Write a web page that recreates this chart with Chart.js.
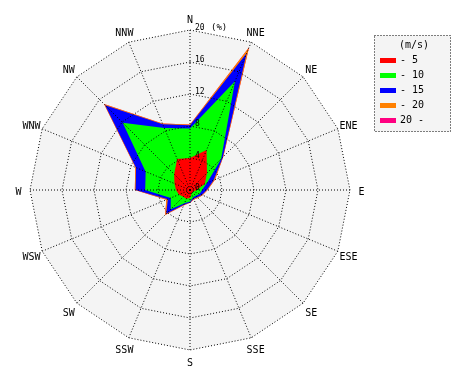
<!DOCTYPE html>
<html><head><meta charset="utf-8">
<script src="https://cdn.jsdelivr.net/npm/chart.js@4/dist/chart.umd.min.js"></script>
<style>html,body{margin:0;padding:0;background:#fff}#wrap{width:470px;height:380px;position:relative}</style>
</head><body><div id="wrap"><canvas id="c" width="470" height="380"></canvas></div>
<script>
const directions = ['N','NNE','NE','ENE','E','ESE','SE','SSE','S','SSW','SW','WSW','W','WNW','NW','NNW'];
const speedClasses = ['- 5','- 10','- 15','- 20','20 -'];
const classColors = ['#ff0000','#00ff00','#0000ff','#ff8000','#ff0080'];
// frequency (%) per direction for each wind-speed class
const freq0to5   = [4.0,5.4,3.0,2.0,0.8,0.5,0.4,0.5,1.0,1.2,1.2,1.5,1.75,2.1,2.8,4.2];
const freq5to10  = [3.7,9.3,2.5,0.3,0.7,0.8,0.6,0.5,0.45,0.6,2.2,1.1,3.85,3.9,9.1,4.2];
const freq10to15 = [0.4,3.8,0.3,0.9,0.6,0.3,0.3,0.2,0.1,0.2,0.8,0.4,1.2,1.3,3.1,0.5];
const freq15to20 = [0.1,0.8,0.1,0.2,0.1,0.1,0.1,0.1,0.05,0.1,0.2,0.2,0.1,0.1,0.2,0.1];
const freqOver20 = [0,0,0,0,0,0,0,0,0,0,0,0,0,0,0,0];
const radialTicks = [0,4,8,12,16,20];
const tickUnit = '(%)';
const legendTitle = '(m/s)';

const classFreqs = [freq0to5, freq5to10, freq10to15, freq15to20, freqOver20];
const running = directions.map(() => 0);
const datasets = classFreqs.map((arr, k) => {
  const cum = arr.map((v, i) => { running[i] += v; return +running[i].toFixed(3); });
  return {
    label: speedClasses[k],
    data: cum,
    backgroundColor: classColors[k],
    borderColor: classColors[k],
    borderWidth: 0,
    fill: 'origin',
    pointRadius: 0,
    tension: 0
  };
});

const FONT = '"DejaVu Sans Mono", monospace';

const bgPlugin = {
  id: 'bg',
  beforeDatasetsDraw(chart) {
    const s = chart.scales.r, ctx = chart.ctx;
    ctx.save();
    ctx.beginPath();
    directions.forEach((d, i) => {
      const p = s.getPointPosition(i, s.getDistanceFromCenterForValue(radialTicks[radialTicks.length-1]));
      if (i === 0) ctx.moveTo(p.x, p.y); else ctx.lineTo(p.x, p.y);
    });
    ctx.closePath();
    ctx.fillStyle = '#f4f4f4';
    ctx.fill();
    ctx.restore();
  }
};

const labelsPlugin = {
  id: 'labels',
  afterDraw(chart) {
    const s = chart.scales.r, ctx = chart.ctx;
    ctx.save();
    ctx.fillStyle = '#000';
    ctx.font = '10px ' + FONT;
    ctx.textAlign = 'center';
    ctx.textBaseline = 'middle';
    directions.forEach((d, i) => {
      const p = s.getPointPosition(i, s.drawingArea + 11.5);
      ctx.fillText(d, p.x, p.y + 2);
    });
    // radial tick labels
    ctx.textAlign = 'left';
    ctx.textBaseline = 'alphabetic';
    ctx.font = '8px ' + FONT;
    radialTicks.forEach((v, idx) => {
      const y = s.yCenter - s.getDistanceFromCenterForValue(v);
      ctx.fillText(String(v), s.xCenter + 5, y);
      if (idx === radialTicks.length - 1) {
        ctx.font = '9px ' + FONT;
        ctx.fillText(tickUnit, s.xCenter + 21, y);
      }
    });
    // legend
    const lx = 374.5, ly = 35.5, lw = 76, lh = 96;
    ctx.fillStyle = '#f4f4f4';
    ctx.fillRect(lx, ly, lw, lh);
    ctx.strokeStyle = '#000';
    ctx.lineWidth = 1;
    ctx.setLineDash([1, 2]);
    ctx.strokeRect(lx, ly, lw, lh);
    ctx.setLineDash([]);
    ctx.fillStyle = '#000';
    ctx.font = '10px ' + FONT;
    ctx.textAlign = 'center';
    ctx.textBaseline = 'alphabetic';
    ctx.fillText(legendTitle, 414, 48);
    ctx.textAlign = 'left';
    speedClasses.forEach((lab, k) => {
      const yc = 60 + k * 15;
      ctx.fillStyle = classColors[k];
      ctx.fillRect(380, yc - 2, 16, 5);
      ctx.fillStyle = '#000';
      ctx.fillText(lab, 400, yc + 3);
    });
    ctx.restore();
  }
};

new Chart(document.getElementById('c'), {
  type: 'radar',
  data: { labels: directions, datasets },
  options: {
    responsive: false,
    animation: false,
    layout: { padding: { left: 30, right: 120, top: 30, bottom: 30 } },
    plugins: { legend: { display: false }, tooltip: { enabled: false } },
    elements: { line: { tension: 0, borderWidth: 0 }, point: { radius: 0 } },
    scales: {
      r: {
        min: 0, max: 20,
        ticks: { display: false, stepSize: 4 },
        pointLabels: { display: false },
        grid: { z: 1, color: '#000', lineWidth: 1, borderDash: [1, 2] },
        border: { dash: [1, 2] },
        angleLines: { color: '#000', lineWidth: 1, borderDash: [1, 2] }
      }
    }
  },
  plugins: [bgPlugin, labelsPlugin]
});
</script></body></html>
